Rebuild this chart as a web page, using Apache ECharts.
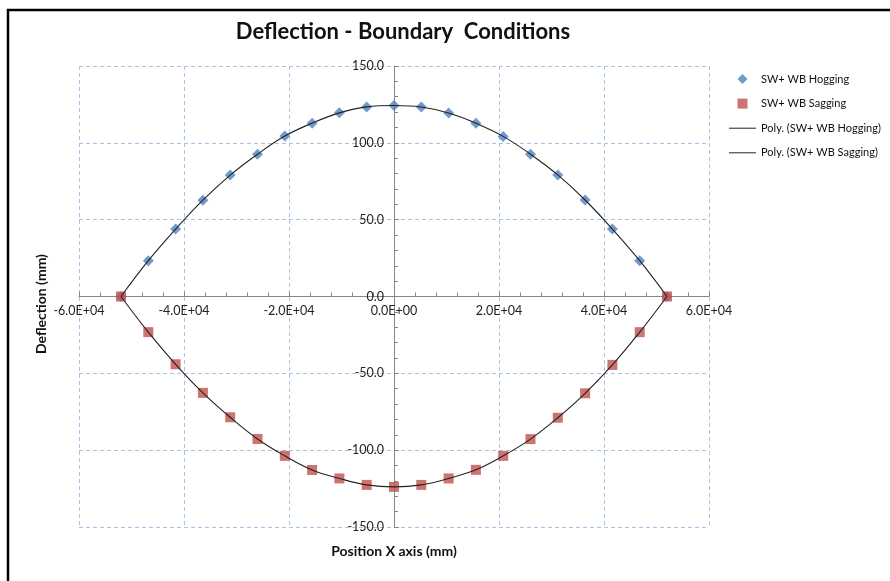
<!DOCTYPE html>
<html>
<head>
<meta charset="utf-8">
<script src="https://cdn.jsdelivr.net/npm/echarts@6/dist/echarts.min.js"></script>
<style>
  html, body { margin: 0; padding: 0; background: #fff; }
  #chart { width: 890px; height: 581px; }
</style>
</head>
<body>
<div id="chart"></div>
<script>
// position along the beam (mm)
var positions = [-52000, -46800, -41600, -36400, -31200, -26000, -20800, -15600, -10400, -5200, 0,
                 5200, 10400, 15600, 20800, 26000, 31200, 36400, 41600, 46800, 52000];
// deflection values (mm)
var hogging = [0, 23.3, 43.9, 62.7, 79.0, 92.6, 104.4, 112.8, 119.5, 123.4, 124.3,
               123.3, 119.4, 112.8, 104.2, 92.6, 79.1, 62.8, 43.9, 23.3, 0];
var sagging = [0, -23.2, -44.1, -62.7, -78.6, -92.7, -103.7, -112.9, -118.4, -122.6, -123.9,
               -122.6, -118.4, -112.8, -103.7, -92.8, -78.9, -63.0, -44.5, -23.2, 0];
var seriesNames = ['SW+ WB Hogging', 'SW+ WB Sagging', 'Poly. (SW+ WB Hogging)', 'Poly. (SW+ WB Sagging)'];

function pairs(ys) {
    return positions.map(function (x, i) { return [x, ys[i]]; });
}

// 2.0E+04 style labels
function sci(v) {
    var s = v.toExponential(1).toUpperCase();
    return s.replace(/E([+-])(\d)$/, 'E$10$2');
}

var font = 'Lato, "Open Sans", sans-serif';
// grid box, axes cross at (0,0) in the middle of it
var gridL = 79, gridR = 181, gridT = 66, gridB = 54;
var plotW = 890 - gridL - gridR, plotH = 581 - gridT - gridB;

// legend icons drawn inside a 27x14 box
var iconDiamond = 'path://M0,0M27,14M13.5,2L18.5,7L13.5,12L8.5,7Z';
var iconSquare = 'path://M0,0M27,14M8.5,2h10v10h-10z';
var iconLine = 'path://M0,0M27,14M0,6.5h27v1h-27z';

var myChart = echarts.init(document.getElementById('chart'));

var option = {
    animation: false,
    backgroundColor: '#fff',
    textStyle: { fontFamily: font },
    grid: { left: gridL, right: gridR, top: gridT, bottom: gridB },
    legend: {
        orient: 'vertical',
        left: 724,
        top: 67,
        itemWidth: 27,
        itemHeight: 14,
        itemGap: 10.6,
        textStyle: { fontSize: 11, color: '#111', fontFamily: font },
        data: [
            { name: seriesNames[0], icon: iconDiamond },
            { name: seriesNames[1], icon: iconSquare },
            { name: seriesNames[2], icon: iconLine },
            { name: seriesNames[3], icon: iconLine }
        ]
    },
    xAxis: {
        type: 'value',
        min: -60000,
        max: 60000,
        interval: 20000,
        offset: -plotH / 2,
        axisLine: { onZero: false, lineStyle: { color: '#868686' } },
        axisTick: { inside: true, length: 5, lineStyle: { color: '#868686' } },
        minorTick: { show: true, splitNumber: 5, length: 4, lineStyle: { color: '#868686' } },
        splitLine: { show: true, lineStyle: { color: '#a9c3e4', type: [4, 3] } },
        axisLabel: { formatter: sci, fontSize: 12.5, color: '#222', margin: 8 }
    },
    yAxis: {
        type: 'value',
        min: -150,
        max: 150,
        interval: 50,
        offset: -plotW / 2,
        axisLine: { onZero: false, lineStyle: { color: '#868686' } },
        axisTick: { inside: true, length: 5, lineStyle: { color: '#868686' } },
        minorTick: { show: true, splitNumber: 5, length: 4, lineStyle: { color: '#868686' } },
        splitLine: { show: true, lineStyle: { color: '#a9c3e4', type: [4, 3] } },
        axisLabel: { formatter: function (v) { return v.toFixed(1); }, fontSize: 12.5, color: '#222', margin: 10 }
    },
    graphic: [
        {
            type: 'rect',
            shape: { x: 8, y: 10, width: 900, height: 600 },
            style: { fill: 'none', stroke: '#000', lineWidth: 2.5 }
        },
        {
            type: 'text', x: 403, y: 32,
            style: { text: 'Deflection - Boundary  Conditions', font: 'bold 22px ' + font,
                     fill: '#111', align: 'center', verticalAlign: 'middle' }
        },
        {
            type: 'text', x: 394, y: 551,
            style: { text: 'Position X axis (mm)', font: 'bold 14px ' + font,
                     fill: '#111', align: 'center', verticalAlign: 'middle' }
        },
        {
            type: 'text', x: 41, y: 304, rotation: Math.PI / 2,
            style: { text: 'Deflection (mm)', font: 'bold 14px ' + font,
                     fill: '#111', align: 'center', verticalAlign: 'middle' }
        }
    ],
    series: [
        {
            name: seriesNames[0],
            type: 'scatter',
            symbol: 'diamond',
            symbolSize: 11,
            itemStyle: { color: '#4f81bd' },
            data: pairs(hogging)
        },
        {
            name: seriesNames[1],
            type: 'scatter',
            symbol: 'rect',
            symbolSize: 10,
            itemStyle: { color: '#c0504d' },
            data: pairs(sagging)
        },
        {
            name: seriesNames[2],
            type: 'line',
            smooth: 0.4,
            symbol: 'none',
            lineStyle: { color: '#222', width: 1.1 },
            itemStyle: { color: '#222' },
            data: pairs(hogging)
        },
        {
            name: seriesNames[3],
            type: 'line',
            smooth: 0.4,
            symbol: 'none',
            lineStyle: { color: '#222', width: 1.1 },
            itemStyle: { color: '#222' },
            data: pairs(sagging)
        }
    ]
};

myChart.setOption(option);
</script>
</body>
</html>
